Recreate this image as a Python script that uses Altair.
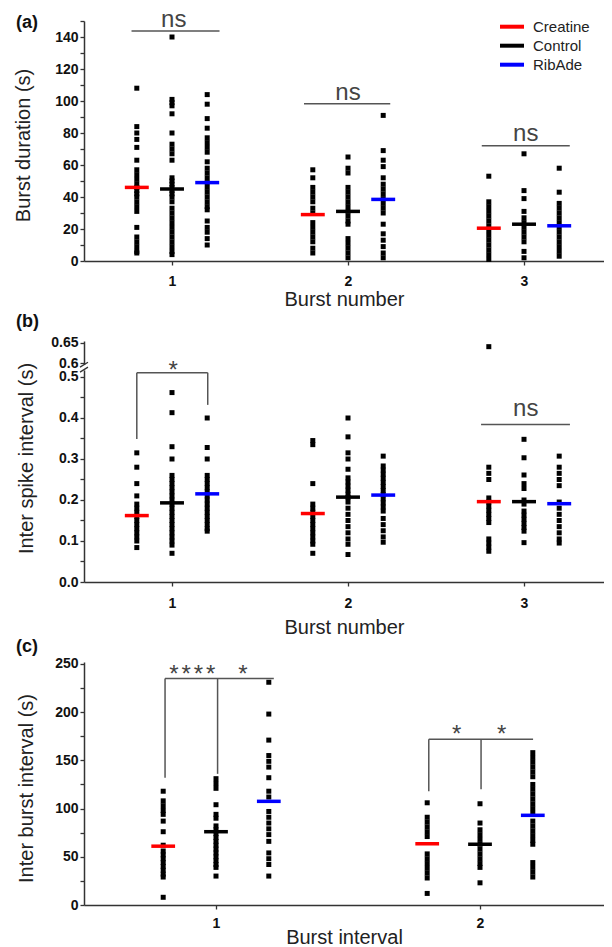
import altair as alt
import pandas as pd

FONT = "Arial, 'Liberation Sans', Helvetica, sans-serif"
GROUPS = ["Creatine", "Control", "RibAde"]
COLORS = ["#ff0000", "#000000", "#0000ff"]
OFFSETS = [-0.2, 0.0, 0.2]

# ---------------- (a) Burst duration (s), burst number 1..3
dur_creatine = [
    [108, 84, 80, 76, 71, 63, 57, 54, 51, 48, 46, 44, 42, 40, 37, 34, 31, 21, 15, 12, 9, 6, 5],
    [57, 52, 46, 43, 40, 37, 33, 30, 24, 21, 18, 15, 12, 8, 5],
    [53, 37, 34, 31, 28, 25, 22, 19, 16, 13, 10, 7, 4, 1],
]
dur_control = [
    [140, 101, 99, 97, 92, 80, 73, 70, 67, 63, 52, 50, 48, 46, 44, 42, 40, 37, 33, 30,
     27, 24, 21, 18, 15, 12, 9, 6, 4],
    [65, 58, 55, 46, 43, 40, 37, 34, 31, 28, 25, 23, 14, 11, 8, 5, 2],
    [67, 44, 39, 31, 27, 24, 21, 18, 15, 12, 6, 2],
]
dur_ribade = [
    [104, 98, 89, 83, 77, 74, 71, 68, 62, 58, 55, 52, 49, 46, 43, 40, 37, 34, 32, 25, 21, 18, 14, 10],
    [91, 69, 63, 59, 52, 48, 45, 42, 39, 36, 33, 30, 23, 17, 13, 9, 5, 2],
    [58, 43, 36, 33, 30, 27, 24, 21, 18, 15, 12, 9, 6, 3],
]
dur_mean = [[46, 29, 20.5], [45, 31, 23], [49, 38.5, 22]]

# ---------------- (b) Inter spike interval (s), burst number 1..3
isi_creatine = [
    [0.315, 0.28, 0.24, 0.21, 0.19, 0.18, 0.17, 0.16, 0.15, 0.14, 0.13, 0.12, 0.11, 0.10, 0.084],
    [0.345, 0.335, 0.24, 0.19, 0.18, 0.17, 0.16, 0.15, 0.14, 0.13, 0.12, 0.11, 0.10, 0.092, 0.07],
    [0.64, 0.28, 0.265, 0.25, 0.205, 0.195, 0.185, 0.175, 0.165, 0.155, 0.145,
     0.105, 0.095, 0.085, 0.075],
]
isi_control = [
    [0.462, 0.413, 0.33, 0.30, 0.26, 0.25, 0.24, 0.23, 0.22, 0.21, 0.20, 0.19, 0.18, 0.17,
     0.16, 0.15, 0.14, 0.13, 0.12, 0.11, 0.10, 0.09, 0.07],
    [0.40, 0.354, 0.315, 0.30, 0.275, 0.254, 0.244, 0.234, 0.224, 0.214, 0.206, 0.195, 0.18,
     0.165, 0.15, 0.135, 0.12, 0.105, 0.092, 0.067],
    [0.348, 0.303, 0.261, 0.24, 0.228, 0.20, 0.19, 0.173, 0.163, 0.153, 0.143, 0.133, 0.124, 0.096],
]
isi_ribade = [
    [0.40, 0.328, 0.30, 0.26, 0.25, 0.24, 0.23, 0.22, 0.21, 0.20, 0.19, 0.18, 0.17, 0.16,
     0.15, 0.14, 0.13, 0.124],
    [0.307, 0.283, 0.273, 0.263, 0.253, 0.243, 0.233, 0.223, 0.213, 0.203, 0.193, 0.183, 0.173,
     0.155, 0.14, 0.125, 0.11, 0.097],
    [0.307, 0.28, 0.265, 0.25, 0.235, 0.195, 0.18, 0.165, 0.15, 0.135, 0.12, 0.105, 0.095],
]
isi_mean = [[0.162, 0.167, 0.196], [0.193, 0.207, 0.196], [0.215, 0.212, 0.191]]

# ---------------- (c) Inter burst interval (s), burst interval 1..2
ibi_creatine = [
    [118, 108, 103, 98, 94, 87, 76, 62, 56, 52, 48, 44, 40, 36, 32, 29, 8],
    [106, 91, 86, 81, 76, 71, 53, 48, 43, 38, 33, 28, 12],
]
ibi_control = [
    [131, 126, 121, 104, 94, 90, 82, 78, 74, 70, 66, 62, 58, 54, 50, 46, 42, 39, 30],
    [105, 85, 78, 73, 68, 63, 58, 53, 48, 43, 39, 23],
]
ibi_ribade = [
    [231, 198, 171, 155, 149, 143, 132, 118, 112, 97, 91, 85, 79, 73, 66, 54, 48, 42, 30],
    [158, 153, 148, 143, 138, 133, 125, 120, 115, 110, 105, 100, 95, 87, 82, 77, 72, 67, 63,
     44, 39, 34, 29],
]
ibi_mean = [[61, 63.5], [76, 63], [107.5, 93]]

# ---------------- significance annotations
a_line_x1 = [0.77, 1.75, 2.76]
a_line_x2 = [1.27, 2.24, 3.26]
a_line_y = [143.7, 98.3, 72.0]
a_text_x = [1.01, 2.0, 3.01]
a_text_y = [146.2, 100.6, 75.1]
a_text = ["ns", "ns", "ns"]

b_seg_x1 = [0.80, 0.80, 1.203, 2.756]
b_seg_x2 = [1.203, 0.80, 1.203, 3.261]
b_seg_y1 = [0.5105, 0.5105, 0.5105, 0.384]
b_seg_y2 = [0.5105, 0.349, 0.432, 0.384]
b_text_x = [1.006, 3.01]
b_text_y = [0.4976, 0.405]
b_text = ["*", "ns"]
b_break_y = [0.512, 0.524]

c_seg_x1 = [0.807, 0.807, 1.006, 1.806, 1.806, 2.004]
c_seg_x2 = [1.219, 0.807, 1.006, 2.201, 1.806, 2.004]
c_seg_y1 = [235, 235, 235, 172, 172, 172]
c_seg_y2 = [235, 132, 136, 172, 118, 120]
c_star_x = [0.841, 0.887, 0.933, 0.980, 1.102, 1.912, 2.082]
c_star_y = [231.3, 231.3, 231.3, 231.3, 231.3, 169.1, 169.1]


def points_df(series):
    rows = []
    for g, off, vals in zip(GROUPS, OFFSETS, series):
        for i, col in enumerate(vals):
            for v in col:
                rows.append({"group": g, "xpos": i + 1 + off, "v": v})
    return pd.DataFrame(rows)


def means_df(means, halfw):
    rows = []
    for g, off, ms in zip(GROUPS, OFFSETS, means):
        for i, m in enumerate(ms):
            c = i + 1 + off
            rows.append({"group": g, "x1": c - halfw, "x2": c + halfw, "m": m})
    return pd.DataFrame(rows)


color_enc = alt.Color("group:N", scale=alt.Scale(domain=GROUPS, range=COLORS), legend=None)


def panel(pts, means, seg, txt, xdom, ydom, height, xaxis, yaxis, label, label_y,
          ycalc=None, star_size=24, extra=None):
    xs = alt.Scale(domain=xdom, nice=False, zero=False)
    ys = alt.Scale(domain=ydom, nice=False, zero=False)
    X = lambda f: alt.X(f, scale=xs, axis=xaxis)
    Y = lambda f: alt.Y(f, scale=ys, axis=yaxis)

    p = alt.Chart(pts).mark_square(size=25, color="black", opacity=1)
    if ycalc is not None:
        p = p.transform_calculate(yv=ycalc).encode(x=X("xpos:Q"), y=Y("yv:Q"))
    else:
        p = p.encode(x=X("xpos:Q"), y=Y("v:Q"))

    m = alt.Chart(means).mark_rule(strokeWidth=3.5).encode(
        x=X("x1:Q"), x2="x2:Q", y=Y("m:Q"), color=color_enc)

    s = alt.Chart(seg).mark_rule(color="#555555", strokeWidth=1.5).encode(
        x=X("x1:Q"), x2="x2:Q", y=Y("y1:Q"), y2="y2:Q")

    t = alt.Chart(txt).mark_text(font=FONT, fontSize=star_size, color="#444444",
                                 baseline="alphabetic", align="center").encode(
        x=X("x:Q"), y=Y("y:Q"), text="t:N")

    lab = alt.Chart(pd.DataFrame({"t": [label]})).mark_text(
        font=FONT, fontSize=18, fontWeight="bold", color="#111111",
        align="left", baseline="middle").encode(
        x=alt.value(-68), y=alt.value(label_y), text="t:N")

    layers = [p, m, s, t, lab]
    if extra:
        layers += extra
    return alt.layer(*layers).properties(width=520, height=height)


# ---------- panel a
a_pts = points_df([dur_creatine, dur_control, dur_ribade])
a_means = means_df(dur_mean, 0.068)
a_seg = pd.DataFrame({"x1": a_line_x1, "x2": a_line_x2, "y1": a_line_y, "y2": a_line_y})
a_txt = pd.DataFrame({"x": a_text_x, "y": a_text_y, "t": a_text})

xax_a = alt.Axis(values=[1, 2, 3], format="d", title="Burst number", labelPadding=9,
                 titleY=28, titleBaseline="top", labelFlush=False)
yax_a = alt.Axis(values=list(range(0, 151, 10)),
                 labelExpr="datum.value % 20 === 0 ? datum.label : ''",
                 title="Burst duration (s)", titleX=-61, titleY=124, titleBaseline="middle")

leg = pd.DataFrame({"group": GROUPS, "ly": [5.7 + 19 * i for i in range(3)]})
leg_rule = alt.Chart(leg).mark_rule(strokeWidth=4).encode(
    x=alt.value(416), x2=alt.value(440), y=alt.Y("ly:Q", scale=None, axis=None), color=color_enc)
leg_text = alt.Chart(leg).mark_text(font=FONT, fontSize=15, color="#222222", align="left",
                                    baseline="middle").encode(
    x=alt.value(449), y=alt.Y("ly:Q", scale=None, axis=None), text="group:N")

chart_a = panel(a_pts, a_means, a_seg, a_txt, [0.5, 3.4545], [0, 150], 240, xax_a, yax_a,
                "(a)", 2, extra=[leg_rule, leg_text])

# ---------- panel b (broken axis: values above 0.55 shifted down by 0.066)
B_TOP = 0.5878
b_pts = points_df([isi_creatine, isi_control, isi_ribade])
b_means = means_df(isi_mean, 0.068)
b_seg = pd.DataFrame({"x1": b_seg_x1, "x2": b_seg_x2, "y1": b_seg_y1, "y2": b_seg_y2})
b_txt = pd.DataFrame({"x": b_text_x, "y": b_text_y, "t": b_text})

b_ticks = [round(0.05 * i, 2) for i in range(11)] + [0.534, 0.584]
xax_b = alt.Axis(values=[1, 2, 3], format="d", title="Burst number", labelPadding=10,
                 titleY=35, titleBaseline="top", labelFlush=False)
yax_b = alt.Axis(values=b_ticks,
                 labelExpr=("datum.value > 0.56 ? '0.65' : datum.value > 0.52 ? '0.6' : "
                            "(round(datum.value * 100) % 10 === 0 ? format(datum.value, '.1f') : '')"),
                 title="Inter spike interval (s)", titleX=-58, titleY=117, titleBaseline="middle")

brk = pd.DataFrame({"y1": b_break_y, "y2": [v + 0.012 for v in b_break_y]})
gap = pd.DataFrame({"y1": [b_break_y[0] + 0.004], "y2": [b_break_y[1] + 0.006]})
ys_b = alt.Scale(domain=[0, B_TOP], nice=False, zero=False)
gap_rect = alt.Chart(gap).mark_rect(color="white").encode(
    x=alt.value(-3), x2=alt.value(3),
    y=alt.Y("y1:Q", scale=ys_b, axis=yax_b), y2="y2:Q")
brk_rule = alt.Chart(brk).mark_rule(color="#333333", strokeWidth=1.3).encode(
    x=alt.value(-4), x2=alt.value(4),
    y=alt.Y("y1:Q", scale=ys_b, axis=yax_b), y2="y2:Q")

chart_b = panel(b_pts, b_means, b_seg, b_txt, [0.5, 3.4545], [0, B_TOP], 241, xax_b, yax_b,
                "(b)", -19, ycalc="datum.v > 0.55 ? datum.v - 0.066 : datum.v",
                extra=[gap_rect, brk_rule])

# ---------- panel c
c_pts = points_df([ibi_creatine, ibi_control, ibi_ribade])
c_means = means_df(ibi_mean, 0.045)
c_seg = pd.DataFrame({"x1": c_seg_x1, "x2": c_seg_x2, "y1": c_seg_y1, "y2": c_seg_y2})
c_txt = pd.DataFrame({"x": c_star_x, "y": c_star_y, "t": ["*"] * len(c_star_x)})

xax_c = alt.Axis(values=[1, 2], format="d", title="Burst interval", labelPadding=7,
                 titleY=22, titleBaseline="top", labelFlush=False)
yax_c = alt.Axis(values=list(range(0, 251, 25)),
                 labelExpr="datum.value % 50 === 0 ? datum.label : ''",
                 title="Inter burst interval (s)", titleX=-58, titleY=126, titleBaseline="middle")

chart_c = panel(c_pts, c_means, c_seg, c_txt, [0.5, 2.4697], [0, 252], 243, xax_c, yax_c,
                "(c)", -15)

chart = alt.vconcat(chart_a, chart_b, chart_c, spacing=80, bounds="flush").properties(
    padding={"left": 4, "top": 0, "right": 0, "bottom": 0}
).configure_view(stroke=None).configure_axis(
    grid=False, domainColor="#333333", domainWidth=1.5, tickColor="#333333", tickWidth=1.3,
    tickSize=4, labelFont=FONT, labelFontSize=14, labelFontWeight="bold", labelColor="#111111",
    labelPadding=2, labelOverlap=False, titleFont=FONT, titleFontSize=20,
    titleFontWeight="normal", titleColor="#222222")

chart.save("out.html", embed_options={"renderer": "svg", "actions": False})
